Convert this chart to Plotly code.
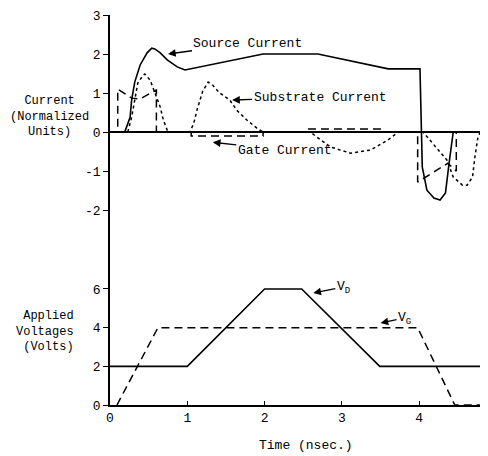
import plotly.graph_objects as go

# ---- data ----
src_t = [0, 0.19, 0.26, 0.28, 0.32, 0.39, 0.48, 0.54, 0.58, 0.65, 0.74, 0.87, 0.97,
         1.98, 2.69, 3.60, 4.01, 4.03, 4.04, 4.10, 4.19, 4.27, 4.34, 4.38, 4.42, 4.44, 4.89]
src_i = [0, 0, 0.38, 0.82, 1.28, 1.72, 2.03, 2.15, 2.13, 2.03, 1.85, 1.67, 1.59,
         2.0, 2.0, 1.62, 1.62, -0.03, -0.9, -1.49, -1.69, -1.74, -1.56, -0.9, -0.2, 0, 0]

sub_t = [0, 0.23, 0.28, 0.32, 0.36, 0.43, 0.45, 0.52, 0.56, 0.61, 0.65, 0.69, 0.74, 0.78,
         1.03, 1.08, 1.13, 1.20, 1.27, 1.33, 1.42, 1.55, 1.64, 1.77, 1.90, 1.98,
         2.59, 2.85, 3.11, 3.37, 3.59, 3.73,
         4.05, 4.36, 4.44, 4.56, 4.62, 4.69, 4.72, 4.76, 4.79, 4.89]
sub_i = [0, 0, 0.38, 0.82, 1.26, 1.46, 1.49, 1.33, 1.13, 0.87, 0.64, 0.31, 0.05, 0,
         0, 0.2, 0.6, 1.05, 1.28, 1.2, 1.0, 0.82, 0.56, 0.31, 0.1, 0,
         0, -0.38, -0.54, -0.46, -0.21, 0,
         0, -0.72, -1.15, -1.36, -1.36, -1.15, -0.64, -0.13, 0, 0]

gate_t = [0, 0.10, 0.10, 0.28, 0.39, 0.49, 0.60, 0.60, 1.05, 1.05, 1.98, 1.98,
          2.55, 2.55, 3.53, 3.53, 3.98, 3.98, 4.37, 4.48, 4.48, 4.89]
gate_i = [0, 0, 1.10, 0.87, 0.85, 0.95, 1.08, 0, 0, -0.1, -0.1, 0,
          0, 0.08, 0.08, 0, 0, -1.28, -0.8, -1.0, 0, 0]

vd_t = [0, 1.0, 2.0, 2.48, 3.49, 4.89]
vd_v = [2, 2, 6, 6, 2, 2]

vg_t = [0.09, 0.62, 3.98, 4.46, 4.89]
vg_v = [0, 4, 4, 0, 0]

cur_ticks = [3, 2, 1, 0, -1, -2]
cur_tick_text = ["3", "2", "1", "0", "-1", "-2"]
volt_ticks = [0, 2, 4, 6]
time_ticks = [0, 1, 2, 3, 4]

FONT = "Liberation Mono, Courier New, monospace"
LW = 1.6

fig = go.Figure()
fig.add_trace(go.Scatter(x=src_t, y=src_i, mode="lines", xaxis="x2", yaxis="y2",
                         line=dict(color="black", width=LW)))
fig.add_trace(go.Scatter(x=sub_t, y=sub_i, mode="lines", xaxis="x2", yaxis="y2",
                         line=dict(color="black", width=1.5, dash="dot")))
fig.add_trace(go.Scatter(x=gate_t, y=gate_i, mode="lines", xaxis="x2", yaxis="y2",
                         line=dict(color="black", width=1.5, dash="8px,5px")))
fig.add_trace(go.Scatter(x=vd_t, y=vd_v, mode="lines", xaxis="x", yaxis="y",
                         line=dict(color="black", width=LW)))
fig.add_trace(go.Scatter(x=vg_t, y=vg_v, mode="lines", xaxis="x", yaxis="y",
                         line=dict(color="black", width=1.5, dash="8px,5px")))

split = (405 - 248) / 390.0

ann = []
def callout(x, y, ax, ay, xr, yr, t):
    ann.append(dict(x=x, y=y, ax=ax, ay=ay, xref=xr, yref=yr, text=t, showarrow=True,
                    arrowhead=2, arrowsize=1.1, arrowwidth=1.4, arrowcolor="black",
                    font=dict(family=FONT, size=13, color="black")))
def label(x, y, t, xr, yr, anchor="left", size=13, align="left"):
    ann.append(dict(x=x, y=y, xref=xr, yref=yr, text=t, showarrow=False,
                    xanchor=anchor, yanchor="middle", align=align,
                    font=dict(family=FONT, size=size, color="black")))

callout(0.75, 2.0, 80, -11, "x2", "y2", "Source Current")
callout(1.58, 0.82, 88, -3, "x2", "y2", "Substrate Current")
callout(1.33, -0.26, 72, 8, "x2", "y2", "Gate Current")
callout(2.63, 5.79, 30, -6, "x", "y", "V<sub>D</sub>")
callout(3.50, 4.24, 24, -5, "x", "y", "V<sub>G</sub>")

# page pixel -> paper coords (plot area spans page x 110..488, y 15..405)
def px2paper_x(px):
    return (px - 110) / 378.0
def py2paper_y(py):
    return (405 - py) / 390.0

label(px2paper_x(49), py2paper_y(117), "Current<br>(Normalized<br>Units)",
      "paper", "paper", anchor="center", size=12, align="center")
label(px2paper_x(76), py2paper_y(331), "Applied<br>Voltages<br>(Volts)",
      "paper", "paper", anchor="right", size=12, align="right")
label(px2paper_x(306), py2paper_y(445), "Time (nsec.)", "paper", "paper", "center")

# page body has an 8px margin, so the figure is 8px smaller and margins shifted
fig.update_layout(
    width=480, height=448,
    margin=dict(l=102, r=0, t=7, b=51),
    paper_bgcolor="white", plot_bgcolor="white",
    showlegend=False,
    font=dict(family=FONT, size=13, color="black"),
    xaxis=dict(domain=[0, 1], anchor="y", range=[0, 4.89], showgrid=False, zeroline=False,
               showline=True, linecolor="black", linewidth=1.6,
               tickmode="array", tickvals=time_ticks, ticks="inside", ticklen=4,
               tickcolor="black", tickfont=dict(family=FONT, size=13)),
    yaxis=dict(domain=[0, split], anchor="x", range=[0, 8.12], showgrid=False, zeroline=False,
               showline=True, linecolor="black", linewidth=1.6,
               tickmode="array", tickvals=volt_ticks, ticks="outside", ticklen=5,
               tickcolor="black", tickfont=dict(family=FONT, size=13)),
    xaxis2=dict(domain=[0, 1], anchor="y2", range=[0, 4.89], visible=False),
    yaxis2=dict(domain=[split, 1], anchor="x2", range=[-2.97, 3], showgrid=False,
                zeroline=True, zerolinecolor="black", zerolinewidth=1.6,
                showline=True, linecolor="black", linewidth=1.6,
                tickmode="array", tickvals=cur_ticks, ticktext=cur_tick_text,
                ticks="outside", ticklen=5, tickcolor="black",
                tickfont=dict(family=FONT, size=13)),
    annotations=ann,
)

fig.write_html("out.html")
